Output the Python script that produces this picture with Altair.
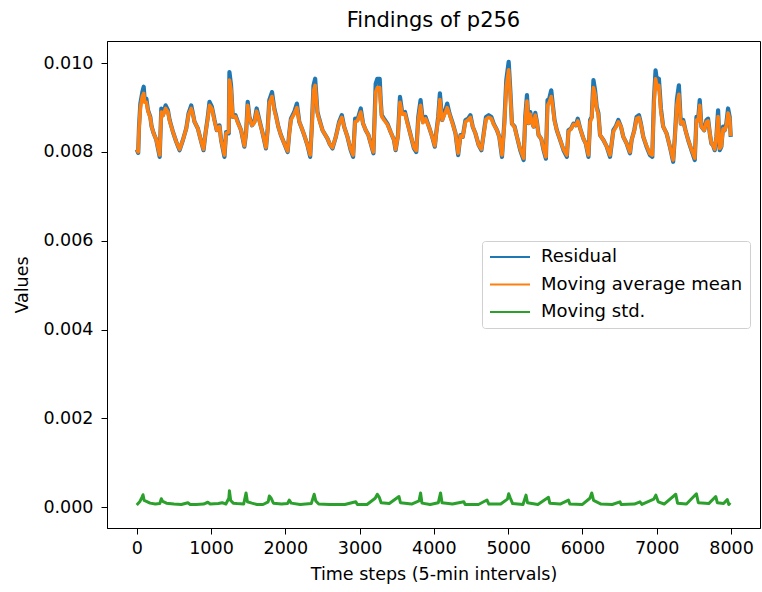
import altair as alt
import pandas as pd

# ---- data ----
steps = [0, 20, 31, 49, 76, 94, 107, 130, 152, 183, 201, 228, 264, 309, 331, 353, 389, 420, 443, 488,
         532, 577, 622, 667, 698, 734, 756, 778, 823, 868, 899, 926, 957, 980, 1011, 1047, 1078, 1114, 1136, 1181,
         1203, 1239, 1248, 1270, 1293, 1329, 1360, 1405, 1449, 1472, 1494, 1517, 1552, 1584, 1615, 1651, 1695, 1740, 1763, 1785,
         1821, 1852, 1874, 1906, 1941, 1986, 2031, 2053, 2076, 2120, 2156, 2188, 2223, 2255, 2299, 2335, 2357, 2380, 2402, 2433,
         2456, 2501, 2568, 2600, 2635, 2680, 2725, 2761, 2792, 2837, 2881, 2913, 2940, 2971, 3016, 3047, 3083, 3119, 3150, 3186,
         3217, 3239, 3271, 3284, 3298, 3329, 3374, 3418, 3463, 3485, 3517, 3544, 3575, 3611, 3642, 3687, 3732, 3763, 3790, 3821,
         3852, 3888, 3933, 3978, 4013, 4031, 4058, 4081, 4112, 4148, 4179, 4210, 4255, 4291, 4327, 4358, 4389, 4425, 4461, 4492,
         4523, 4559, 4604, 4640, 4671, 4702, 4738, 4774, 4805, 4850, 4881, 4917, 4949, 4975, 5007, 5029, 5051, 5087, 5119, 5163,
         5208, 5230, 5253, 5275, 5298, 5320, 5342, 5365, 5387, 5409, 5445, 5477, 5508, 5530, 5553, 5580, 5602, 5624, 5655, 5700,
         5745, 5790, 5812, 5848, 5879, 5911, 5937, 5969, 6013, 6045, 6081, 6103, 6125, 6148, 6170, 6192, 6215, 6237, 6282, 6327,
         6371, 6416, 6447, 6483, 6519, 6550, 6595, 6640, 6662, 6698, 6729, 6761, 6787, 6819, 6863, 6908, 6940, 6962, 6984, 7007,
         7029, 7056, 7087, 7132, 7177, 7221, 7244, 7271, 7298, 7324, 7356, 7387, 7423, 7467, 7512, 7535, 7557, 7579, 7602, 7638,
         7669, 7691, 7714, 7736, 7758, 7781, 7803, 7826, 7848, 7870, 7893, 7915, 7937, 7960, 7982, 7996]

residual = [0.00806, 0.00798, 0.00857, 0.00909, 0.00935, 0.00947, 0.00917, 0.00920, 0.00894, 0.00879, 0.00857, 0.00842, 0.00827, 0.00789, 0.00898, 0.00883, 0.00905, 0.00894, 0.00872, 0.00845,
            0.00823, 0.00804, 0.00827, 0.00853, 0.00887, 0.00905, 0.00887, 0.00868, 0.00853, 0.00823, 0.00804, 0.00842, 0.00879, 0.00913, 0.00902, 0.00872, 0.00849, 0.00860, 0.00827, 0.00789,
            0.00845, 0.00842, 0.00980, 0.00950, 0.00879, 0.00883, 0.00868, 0.00849, 0.00812, 0.00842, 0.00913, 0.00879, 0.00860, 0.00868, 0.00898, 0.00872, 0.00842, 0.00808, 0.00853, 0.00917,
            0.00935, 0.00898, 0.00883, 0.00857, 0.00838, 0.00819, 0.00800, 0.00842, 0.00875, 0.00890, 0.00909, 0.00868, 0.00853, 0.00838, 0.00815, 0.00789, 0.00857, 0.00950, 0.00965, 0.00890,
            0.00875, 0.00849, 0.00830, 0.00817, 0.00808, 0.00834, 0.00868, 0.00883, 0.00857, 0.00834, 0.00804, 0.00789, 0.00875, 0.00872, 0.00898, 0.00864, 0.00849, 0.00838, 0.00819, 0.00797,
            0.00954, 0.00965, 0.00965, 0.00917, 0.00883, 0.00875, 0.00864, 0.00845, 0.00827, 0.00804, 0.00838, 0.00924, 0.00887, 0.00890, 0.00868, 0.00838, 0.00808, 0.00800, 0.00879, 0.00917,
            0.00868, 0.00879, 0.00857, 0.00834, 0.00812, 0.00842, 0.00879, 0.00932, 0.00872, 0.00890, 0.00909, 0.00887, 0.00864, 0.00842, 0.00793, 0.00838, 0.00834, 0.00872, 0.00875, 0.00883,
            0.00857, 0.00842, 0.00815, 0.00804, 0.00842, 0.00879, 0.00883, 0.00879, 0.00864, 0.00849, 0.00834, 0.00789, 0.00868, 0.00962, 0.01003, 0.00939, 0.00864, 0.00857, 0.00834, 0.00804,
            0.00782, 0.00879, 0.00928, 0.00865, 0.00890, 0.00868, 0.00857, 0.00888, 0.00868, 0.00838, 0.00830, 0.00804, 0.00785, 0.00917, 0.00920, 0.00939, 0.00905, 0.00872, 0.00849, 0.00827,
            0.00804, 0.00789, 0.00849, 0.00853, 0.00864, 0.00860, 0.00875, 0.00853, 0.00830, 0.00819, 0.00789, 0.00872, 0.00879, 0.00962, 0.00939, 0.00902, 0.00887, 0.00838, 0.00827, 0.00812,
            0.00789, 0.00849, 0.00857, 0.00872, 0.00857, 0.00834, 0.00819, 0.00797, 0.00827, 0.00849, 0.00879, 0.00883, 0.00864, 0.00834, 0.00812, 0.00793, 0.00789, 0.00917, 0.00984, 0.00954,
            0.00965, 0.00898, 0.00857, 0.00842, 0.00812, 0.00778, 0.00834, 0.00917, 0.00950, 0.00864, 0.00872, 0.00849, 0.00827, 0.00804, 0.00782, 0.00879, 0.00872, 0.00917, 0.00857, 0.00849,
            0.00872, 0.00875, 0.00842, 0.00819, 0.00815, 0.00804, 0.00834, 0.00894, 0.00804, 0.00812, 0.00857, 0.00849, 0.00864, 0.00898, 0.00879, 0.00834]

moving_mean = [0.00806, 0.00800, 0.00852, 0.00900, 0.00925, 0.00932, 0.00912, 0.00912, 0.00892, 0.00877, 0.00857, 0.00842, 0.00827, 0.00793, 0.00890, 0.00882, 0.00898, 0.00890, 0.00870, 0.00845,
               0.00823, 0.00806, 0.00827, 0.00853, 0.00884, 0.00898, 0.00885, 0.00868, 0.00853, 0.00823, 0.00806, 0.00842, 0.00876, 0.00905, 0.00898, 0.00870, 0.00849, 0.00857, 0.00827, 0.00793,
               0.00842, 0.00845, 0.00962, 0.00940, 0.00879, 0.00880, 0.00866, 0.00849, 0.00814, 0.00842, 0.00905, 0.00877, 0.00860, 0.00866, 0.00892, 0.00870, 0.00842, 0.00810, 0.00850, 0.00910,
               0.00925, 0.00895, 0.00880, 0.00857, 0.00838, 0.00819, 0.00802, 0.00840, 0.00872, 0.00886, 0.00900, 0.00868, 0.00853, 0.00838, 0.00815, 0.00793, 0.00852, 0.00938, 0.00950, 0.00887,
               0.00873, 0.00849, 0.00830, 0.00817, 0.00810, 0.00834, 0.00865, 0.00878, 0.00857, 0.00834, 0.00806, 0.00793, 0.00868, 0.00870, 0.00890, 0.00864, 0.00849, 0.00838, 0.00819, 0.00800,
               0.00935, 0.00945, 0.00945, 0.00910, 0.00880, 0.00872, 0.00862, 0.00845, 0.00827, 0.00806, 0.00836, 0.00912, 0.00885, 0.00886, 0.00866, 0.00838, 0.00810, 0.00803, 0.00872, 0.00905,
               0.00866, 0.00875, 0.00857, 0.00834, 0.00814, 0.00840, 0.00875, 0.00918, 0.00872, 0.00886, 0.00900, 0.00885, 0.00862, 0.00842, 0.00797, 0.00836, 0.00834, 0.00868, 0.00872, 0.00878,
               0.00857, 0.00842, 0.00815, 0.00806, 0.00840, 0.00874, 0.00878, 0.00875, 0.00862, 0.00849, 0.00834, 0.00793, 0.00862, 0.00948, 0.00985, 0.00930, 0.00864, 0.00855, 0.00834, 0.00806,
               0.00786, 0.00872, 0.00915, 0.00865, 0.00885, 0.00866, 0.00857, 0.00883, 0.00866, 0.00838, 0.00830, 0.00806, 0.00789, 0.00905, 0.00912, 0.00925, 0.00900, 0.00870, 0.00849, 0.00827,
               0.00806, 0.00793, 0.00846, 0.00852, 0.00862, 0.00860, 0.00870, 0.00853, 0.00830, 0.00819, 0.00793, 0.00868, 0.00876, 0.00945, 0.00930, 0.00898, 0.00884, 0.00838, 0.00827, 0.00812,
               0.00793, 0.00846, 0.00855, 0.00868, 0.00857, 0.00834, 0.00819, 0.00800, 0.00827, 0.00848, 0.00875, 0.00878, 0.00862, 0.00834, 0.00814, 0.00796, 0.00793, 0.00905, 0.00965, 0.00942,
               0.00950, 0.00892, 0.00857, 0.00842, 0.00812, 0.00782, 0.00832, 0.00905, 0.00930, 0.00864, 0.00868, 0.00849, 0.00827, 0.00806, 0.00786, 0.00872, 0.00870, 0.00905, 0.00857, 0.00849,
               0.00868, 0.00870, 0.00842, 0.00820, 0.00815, 0.00806, 0.00834, 0.00880, 0.00808, 0.00813, 0.00852, 0.00849, 0.00860, 0.00888, 0.00875, 0.00836]

std_steps = [0, 40, 70, 85, 100, 130, 180, 250, 310, 331, 350, 400, 500, 600, 689, 720, 800, 900, 957, 990,
             1100, 1150, 1200, 1240, 1248, 1265, 1300, 1350, 1440, 1472, 1490, 1550, 1620, 1700, 1770, 1785, 1810, 1840, 1950, 2030,
             2053, 2080, 2200, 2350, 2389, 2410, 2450, 2600, 2800, 2949, 2970, 3100, 3210, 3239, 3265, 3290, 3400, 3530, 3550, 3700,
             3800, 3821, 3840, 3950, 4060, 4090, 4110, 4250, 4404, 4420, 4600, 4715, 4740, 4900, 4990, 5007, 5030, 5060, 5200, 5240,
             5260, 5400, 5543, 5560, 5700, 5812, 5830, 6000, 6100, 6125, 6150, 6250, 6400, 6505, 6520, 6700, 6774, 6800, 6960, 6988,
             7020, 7100, 7256, 7280, 7400, 7534, 7560, 7700, 7794, 7815, 7900, 7950, 7970, 7990]

moving_std = [0.00005, 0.00012, 0.00022, 0.00028, 0.00015, 0.00013, 0.00009, 0.00007, 0.00008, 0.00019, 0.00013, 0.00009, 0.00007, 0.00006, 0.00010, 0.00006, 0.00006, 0.00007, 0.00011, 0.00007,
              0.00008, 0.00010, 0.00007, 0.00020, 0.00037, 0.00015, 0.00009, 0.00008, 0.00007, 0.00032, 0.00012, 0.00009, 0.00006, 0.00006, 0.00012, 0.00025, 0.00020, 0.00009, 0.00007, 0.00008,
              0.00016, 0.00009, 0.00006, 0.00008, 0.00029, 0.00014, 0.00007, 0.00006, 0.00006, 0.00012, 0.00006, 0.00006, 0.00020, 0.00029, 0.00022, 0.00010, 0.00008, 0.00024, 0.00010, 0.00007,
              0.00014, 0.00032, 0.00009, 0.00006, 0.00010, 0.00032, 0.00010, 0.00007, 0.00012, 0.00006, 0.00006, 0.00016, 0.00007, 0.00007, 0.00018, 0.00030, 0.00020, 0.00008, 0.00006, 0.00027,
              0.00010, 0.00006, 0.00022, 0.00009, 0.00007, 0.00016, 0.00007, 0.00006, 0.00020, 0.00032, 0.00015, 0.00007, 0.00006, 0.00012, 0.00006, 0.00007, 0.00012, 0.00006, 0.00018, 0.00027,
              0.00012, 0.00007, 0.00029, 0.00009, 0.00007, 0.00030, 0.00010, 0.00008, 0.00024, 0.00010, 0.00008, 0.00017, 0.00006, 0.00010]

series_names = ["Residual", "Moving average mean", "Moving std."]
series_colors = ["#1f77b4", "#ff7f0e", "#2ca02c"]
x_ticks = [0, 1000, 2000, 3000, 4000, 5000, 6000, 7000, 8000]
y_ticks = [0.000, 0.002, 0.004, 0.006, 0.008, 0.010]

df = pd.concat([
    pd.DataFrame({"t": steps, "v": residual, "series": series_names[0]}),
    pd.DataFrame({"t": steps, "v": moving_mean, "series": series_names[1]}),
    pd.DataFrame({"t": std_steps, "v": moving_std, "series": series_names[2]}),
], ignore_index=True)

FONT = "DejaVu Sans"
FS = 17.5

x_enc = alt.X("t:Q", title="Time steps (5-min intervals)",
              scale=alt.Scale(domain=[-400, 8390], nice=False, zero=False),
              axis=alt.Axis(values=x_ticks, format="d", labelPadding=5, titlePadding=9))
y_enc = alt.Y("v:Q", title="Values",
              scale=alt.Scale(domain=[-0.00047, 0.0105], nice=False, zero=False),
              axis=alt.Axis(values=y_ticks, format=".3f", labelPadding=8, titlePadding=11))
color_enc = alt.Color("series:N", title=None,
                      scale=alt.Scale(domain=series_names, range=series_colors),
                      legend=alt.Legend(orient="none", legendX=375, legendY=200,
                                        symbolType="stroke", symbolSize=1600, symbolStrokeWidth=2,
                                        clipHeight=18, rowPadding=9.5, labelOffset=10, labelLimit=0,
                                        labelFontSize=18, labelFont=FONT, labelColor="black",
                                        padding=7, strokeColor="#d0d0d0", fillColor="white",
                                        cornerRadius=3))

widths = [4.2, 3.6, 3]
layers = []
for name, w in zip(series_names, widths):
    layers.append(
        alt.Chart(df).transform_filter(alt.datum.series == name)
        .mark_line(strokeWidth=w, strokeJoin="round")
        .encode(x=x_enc, y=y_enc, color=color_enc, order=alt.Order("t:Q"))
    )

chart = alt.layer(*layers).properties(
    width=653, height=487,
    background="white",
    title=alt.TitleParams("Findings of p256", fontSize=21, font=FONT, fontWeight="normal",
                          color="black", offset=10, anchor="middle"),
    autosize=alt.AutoSizeParams(type="none"),
    padding={"left": 107, "top": 41, "right": 2, "bottom": 64},
).configure_view(stroke="black", strokeWidth=1).configure_axis(
    grid=False, domainColor="black", tickColor="black", labelColor="black", titleColor="black",
    labelFont=FONT, titleFont=FONT, labelFontSize=FS, titleFontSize=FS, titleFontWeight="normal",
    tickSize=6, domainWidth=1, tickWidth=1,
)

chart.save("out.html", embed_options={"renderer": "svg", "actions": False})
